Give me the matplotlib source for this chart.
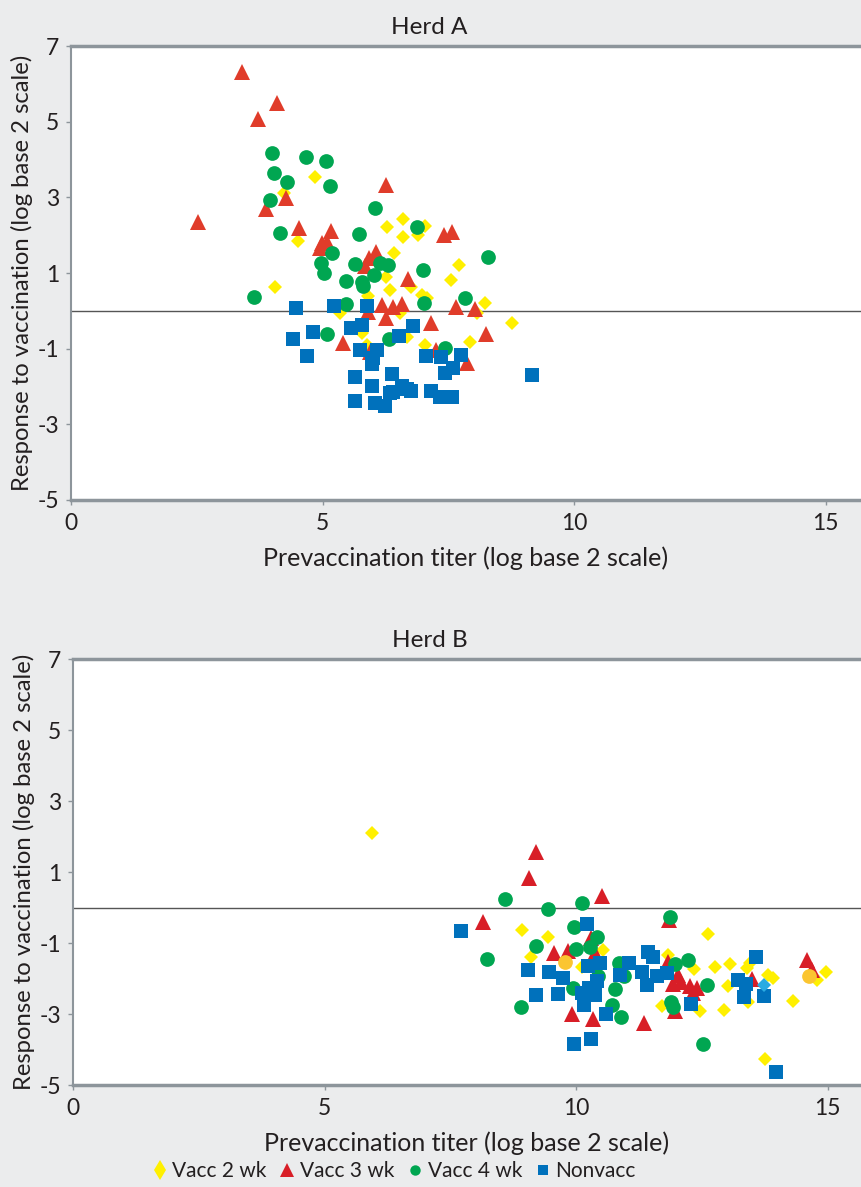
import matplotlib
matplotlib.use("Agg")
import matplotlib.pyplot as plt
from matplotlib.lines import Line2D

plt.rcParams['font.family'] = ['Lato', 'DejaVu Sans']
plt.rcParams['axes.unicode_minus'] = False

# ---- Herd A ----
a_v2_x = [4.85, 4.23, 4.52, 4.05, 6.60, 6.27, 7.03, 6.60, 6.90, 6.42, 7.71, 6.25, 7.55, 6.75,
          6.34, 5.91, 6.97, 7.07, 8.23, 5.34, 6.54, 8.07, 8.76, 5.78, 6.67, 7.93, 7.03, 5.88]
a_v2_y = [3.54, 3.11, 1.85, 0.62, 2.42, 2.21, 2.24, 1.94, 2.00, 1.54, 1.21, 0.89, 0.81, 0.62,
          0.55, 0.39, 0.42, 0.33, 0.21, -0.07, -0.07, -0.05, -0.33, -0.59, -0.68, -0.82, -0.89, -0.90]

a_v3_x = [3.39, 4.09, 3.71, 2.53, 3.87, 4.27, 4.54, 6.25, 5.17, 4.98, 5.09, 4.95, 6.06, 5.93,
          5.84, 7.42, 7.58, 6.70, 6.19, 6.39, 6.58, 7.65, 8.03, 5.90, 6.26, 7.15, 8.25, 5.40,
          7.25, 7.87, 5.94]
a_v3_y = [6.32, 5.50, 5.06, 2.34, 2.69, 2.97, 2.18, 3.33, 2.11, 1.80, 1.83, 1.66, 1.56, 1.39,
          1.18, 2.00, 2.08, 0.83, 0.15, 0.11, 0.17, 0.09, 0.04, -0.02, -0.20, -0.31, -0.61, -0.84,
          -1.04, -1.37, -1.08]

a_v4_x = [3.99, 4.66, 5.06, 4.03, 4.29, 5.15, 3.95, 4.15, 6.04, 5.73, 6.88, 5.18, 4.96, 5.03,
          5.64, 6.15, 6.30, 6.99, 8.28, 6.03, 5.46, 5.78, 5.80, 3.64, 7.83, 7.01, 5.46, 5.09,
          6.32, 7.43]
a_v4_y = [4.16, 4.06, 3.97, 3.65, 3.41, 3.30, 2.93, 2.06, 2.71, 2.02, 2.22, 1.52, 1.27, 1.01,
          1.24, 1.27, 1.20, 1.08, 1.43, 0.95, 0.80, 0.77, 0.65, 0.36, 0.33, 0.20, 0.18, -0.62,
          -0.75, -0.98]

a_nv_x = [4.48, 5.23, 5.88, 4.42, 4.81, 4.68, 5.56, 5.78, 6.79, 6.52, 5.75, 6.09, 6.01, 5.98,
          7.05, 7.35, 7.76, 7.60, 7.43, 9.17, 5.64, 6.38, 5.99, 6.40, 6.67, 7.15, 7.33, 7.58,
          5.64, 6.04, 6.24, 6.34, 6.58, 6.75]
a_nv_y = [0.07, 0.13, 0.13, -0.75, -0.57, -1.19, -0.46, -0.38, -0.39, -0.67, -1.04, -1.04, -1.26,
          -1.41, -1.19, -1.21, -1.17, -1.52, -1.64, -1.70, -1.76, -1.67, -1.99, -2.14, -2.07, -2.11,
          -2.29, -2.29, -2.38, -2.43, -2.52, -2.18, -1.98, -2.12]

# ---- Herd B ----
b_v2_x = [5.94, 8.92, 9.44, 10.54, 9.11, 10.11, 12.62, 11.82, 12.34, 12.76, 13.05, 13.39, 13.45,
          14.78, 14.97, 13.81, 13.91, 13.02, 13.41, 14.30, 11.70, 12.46, 12.93, 13.76]
b_v2_y = [2.10, -0.63, -0.82, -1.20, -1.39, -1.67, -0.75, -1.34, -1.74, -1.67, -1.60, -1.70, -1.57,
          -2.04, -1.81, -1.90, -1.99, -2.21, -2.65, -2.63, -2.77, -2.92, -2.89, -4.28]

b_v3_x = [9.21, 9.06, 10.52, 8.15, 9.56, 9.84, 10.29, 10.37, 9.91, 10.34, 11.35, 11.84, 11.83,
          14.58, 14.68, 13.50, 11.93, 12.09, 12.26, 12.40, 12.32, 12.03, 11.96]
b_v3_y = [1.57, 0.82, 0.32, -0.42, -1.29, -1.23, -0.87, -1.29, -3.00, -3.15, -3.25, -0.35, -1.54,
          -1.48, -1.76, -2.01, -2.14, -2.09, -2.21, -2.28, -2.42, -1.90, -2.92]

b_v4_x = [8.58, 9.44, 10.11, 9.95, 9.21, 9.99, 10.41, 10.27, 8.22, 10.85, 10.95, 10.44, 9.93,
          10.77, 10.71, 10.89, 8.90, 11.86, 11.96, 12.23, 12.60, 11.88, 11.93, 12.52]
b_v4_y = [0.24, -0.04, 0.12, -0.56, -1.08, -1.17, -0.84, -1.12, -1.46, -1.55, -1.92, -1.93, -2.28,
          -2.30, -2.75, -3.08, -2.81, -0.26, -1.59, -1.48, -2.18, -2.65, -2.79, -3.83]

b_nv_x = [7.71, 10.21, 9.05, 9.46, 9.74, 10.24, 10.47, 11.05, 10.87, 10.42, 11.30, 10.11, 10.26,
          10.37, 9.20, 9.63, 10.16, 10.60, 9.95, 10.29, 11.43, 11.53, 13.57, 13.22, 13.37, 11.60,
          11.80, 11.40, 13.33, 13.74, 12.28, 13.98]
b_nv_y = [-0.65, -0.45, -1.76, -1.81, -1.98, -1.65, -1.57, -1.57, -1.90, -2.06, -1.81, -2.40, -2.28,
          -2.46, -2.46, -2.44, -2.75, -3.01, -3.85, -3.70, -1.25, -1.39, -1.39, -2.04, -2.16, -1.93,
          -1.85, -2.18, -2.53, -2.48, -2.72, -4.63]

# overlapping points shown in mixed colours in the original
b_orange_x = [9.78, 14.62]
b_orange_y = [-1.53, -1.92]
b_cyan_x = [13.73]
b_cyan_y = [-2.17]

labels = ['Vacc 2 wk', 'Vacc 3 wk', 'Vacc 4 wk', 'Nonvacc']
xticks = [0, 5, 10, 15]
yticks = [-5, -3, -1, 1, 3, 5, 7]

BG = '#ebeced'
TXT = '#231f20'
YELLOW = '#fff000'
RED_A = '#e03c2a'
RED_B = '#d81e27'
GREEN = '#00a651'
BLUE = '#0071bc'
SPINE = '#8d959b'

fig = plt.figure(figsize=(8.61, 11.87), dpi=100, facecolor=BG)
axA = fig.add_axes([0.0825, 0.5788, 0.9175, 0.3824])
axB = fig.add_axes([0.0848, 0.0859, 0.9152, 0.3589])


def style(ax, title, xmax, title_x):
    ax.set_facecolor('white')
    ax.set_xlim(0, xmax)
    ax.set_ylim(-5, 7)
    ax.set_xticks(xticks)
    ax.set_yticks(yticks)
    ax.tick_params(axis='both', direction='out', length=3.5, width=1, color=SPINE,
                   labelsize=16.5, labelcolor=TXT)
    ax.tick_params(axis='x', pad=6)
    ax.tick_params(axis='y', pad=5)
    ax.spines['right'].set_visible(False)
    ax.spines['left'].set_color(SPINE)
    ax.spines['left'].set_linewidth(1.5)
    for s in ('top', 'bottom'):
        ax.spines[s].set_color(SPINE)
        ax.spines[s].set_linewidth(2.5)
    ax.axhline(0, color='#555555', lw=1, zorder=1)
    ax.set_title(title, fontsize=17.5, color=TXT, pad=9, x=title_x)
    ax.set_xlabel('Prevaccination titer (log base 2 scale)', fontsize=18, color=TXT, labelpad=9)
    ax.set_ylabel('Response to vaccination (log base 2 scale)', fontsize=17.2, color=TXT, labelpad=3)


style(axA, 'Herd A', 15.70, 0.454)
style(axB, 'Herd B', 15.66, 0.453)

for ax, sets, red in [
    (axA, [(a_v2_x, a_v2_y), (a_v3_x, a_v3_y), (a_v4_x, a_v4_y), (a_nv_x, a_nv_y)], RED_A),
    (axB, [(b_v2_x, b_v2_y), (b_v3_x, b_v3_y), (b_v4_x, b_v4_y), (b_nv_x, b_nv_y)], RED_B),
]:
    (x2, y2), (x3, y3), (x4, y4), (xn, yn) = sets
    ax.plot(x2, y2, 'D', color=YELLOW, ms=6.8, mew=0, zorder=3, clip_on=False)
    ax.plot(x3, y3, '^', color=red, ms=11.5, mew=0, zorder=4, clip_on=False)
    ax.plot(x4, y4, 'o', color=GREEN, ms=10.6, mew=0, zorder=5, clip_on=False)
    ax.plot(xn, yn, 's', color=BLUE, ms=10.4, mew=0, zorder=6, clip_on=False)

axB.plot(b_orange_x, b_orange_y, 'o', color='#fbc530', ms=10.6, mew=0, zorder=7)
axB.plot(b_cyan_x, b_cyan_y, 'D', color='#2aabe2', ms=6.8, mew=0, zorder=7)

handles = [
    Line2D([], [], ls='none', marker='d', color=YELLOW, ms=10, mew=0),
    Line2D([], [], ls='none', marker='^', color=RED_B, ms=9.5, mew=0),
    Line2D([], [], ls='none', marker='o', color=GREEN, ms=7.5, mew=0),
    Line2D([], [], ls='none', marker='s', color=BLUE, ms=7.5, mew=0),
]
fig.legend(handles, labels, loc='center', bbox_to_anchor=(0.457, 0.0135), ncol=4, frameon=False,
           fontsize=15, handletextpad=0.2, columnspacing=0.6, handlelength=0.8,
           labelcolor=TXT)

fig.savefig('out.png', dpi=100, facecolor=BG)
